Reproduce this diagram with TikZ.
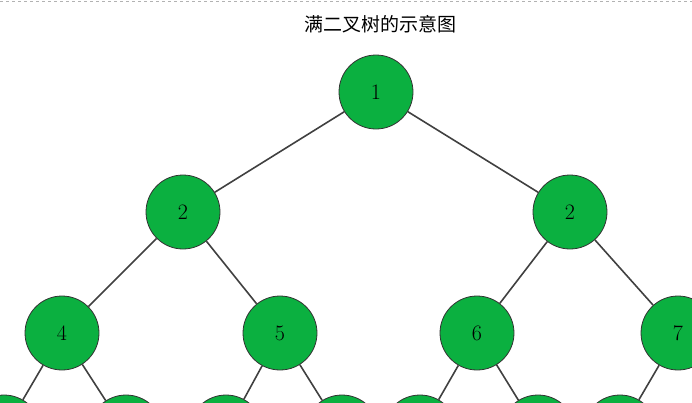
\documentclass[tikz,border=0pt]{standalone}
\usepackage{fontspec}
\newfontfamily\cjk{Noto Sans CJK SC}
\definecolor{nodegreen}{HTML}{0BB040}
\tikzset{
	treenode/.style={circle, draw=black!80, thick, fill=nodegreen, minimum size=74pt, inner sep=0pt, font=\fontsize{22}{22}\selectfont},
	edge/.style={draw=black!75, line width=1.6pt}
}
\begin{document}
\begin{tikzpicture}[x=1pt, y=-1pt]

\useasboundingbox (0,0) rectangle (692,402);
\clip (0,0) rectangle (692,402);
\draw[gray!60, dashed, line width=1pt] (0,1) -- (692,1);
\node (title) at (380,24) {\cjk\fontsize{19}{19}\selectfont 满二叉树的示意图};

\node[treenode] (n1) at (376,92) {1};
\node[treenode] (n2) at (183,212) {2};
\node[treenode] (n3) at (570,212) {2};
\node[treenode] (n4) at (62,333) {4};
\node[treenode] (n5) at (280,333) {5};
\node[treenode] (n6) at (477,333) {6};
\node[treenode] (n7) at (678,333) {7};

\foreach \name/\x in {n8/4, n9/126, n10/226, n11/342, n12/420, n13/538, n14/620, n15/740}
	\node[treenode] (\name) at (\x,432) {};

\begin{scope}[on background layer/.style={}]
\end{scope}

\foreach \a/\b in {n1/n2, n1/n3, n2/n4, n2/n5, n3/n6, n3/n7, n4/n8, n4/n9, n5/n10, n5/n11, n6/n12, n6/n13, n7/n14, n7/n15}
	\draw[edge] (\a) -- (\b);

\end{tikzpicture}
\end{document}
